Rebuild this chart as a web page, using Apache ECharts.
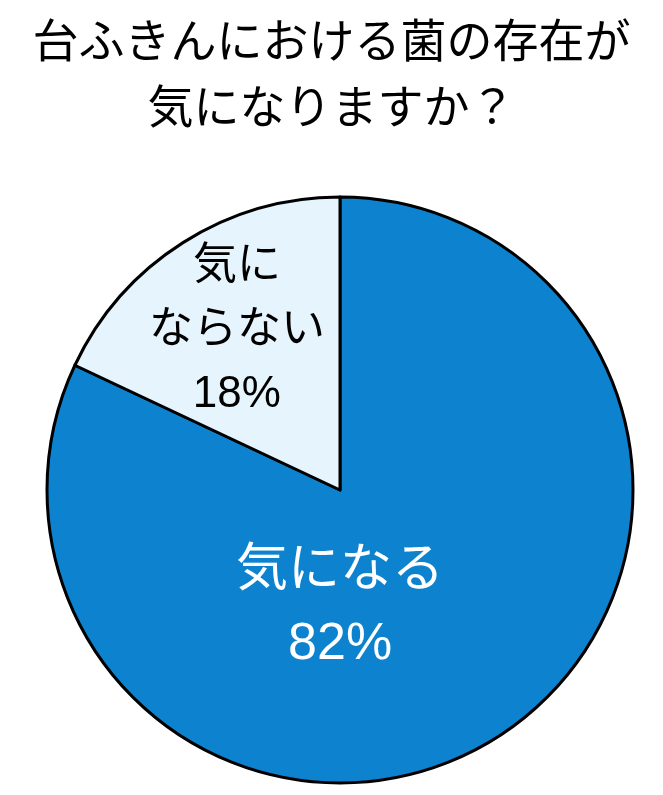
<!DOCTYPE html>
<html>
<head>
<meta charset="utf-8">
<script src="https://cdn.jsdelivr.net/npm/echarts@6/dist/echarts.min.js"></script>
<style>
  html, body { margin: 0; padding: 0; background: #fff; }
  #main { width: 663px; height: 795px; }
</style>
</head>
<body>
<div id="main"></div>
<script>
// answers to the question, clockwise from 12 o'clock
var categories = ['気になる', '気にならない'];
var labelTexts = ['気になる', '気に\nならない'];
var values = [82, 18];
var colors = ['#0d83d0', '#e6f5fd'];
var textColors = ['#ffffff', '#000000'];

var FONT = '"Liberation Sans", "Noto Sans CJK JP", sans-serif';

var chart = echarts.init(document.getElementById('main'));

// label shifts so they sit where the original put them
var labelShift = [
  { dx: -80, dy: -8, size: 52, lh: 73 },
  { dx: -23, dy: -33, size: 44, lh: 64 }
];

chart.setOption({
  animation: false,
  title: {
    text: '台ふきんにおける菌の存在が\n気になりますか？',
    left: 'center',
    top: 6,
    textStyle: {
      fontFamily: FONT,
      fontSize: 46,
      fontWeight: 'normal',
      color: '#000',
      lineHeight: 66
    }
  },
  series: [{
    type: 'pie',
    center: [340, 490],
    radius: [0, 293],
    startAngle: 90,
    clockwise: true,
    avoidLabelOverlap: false,
    itemStyle: {
      borderColor: '#000',
      borderWidth: 3
    },
    label: {
      show: true,
      position: 'inside',
      fontFamily: FONT
    },
    labelLine: { show: false },
    labelLayout: function (p) {
      var s = labelShift[p.dataIndex];
      return { dx: s.dx, dy: s.dy };
    },
    data: categories.map(function (c, i) {
      return {
        name: c,
        value: values[i],
        itemStyle: { color: colors[i] },
        label: {
          formatter: labelTexts[i] + '\n' + values[i] + '%',
          color: textColors[i],
          fontSize: labelShift[i].size,
          lineHeight: labelShift[i].lh,
          align: 'center'
        }
      };
    })
  }]
});
</script>
</body>
</html>
